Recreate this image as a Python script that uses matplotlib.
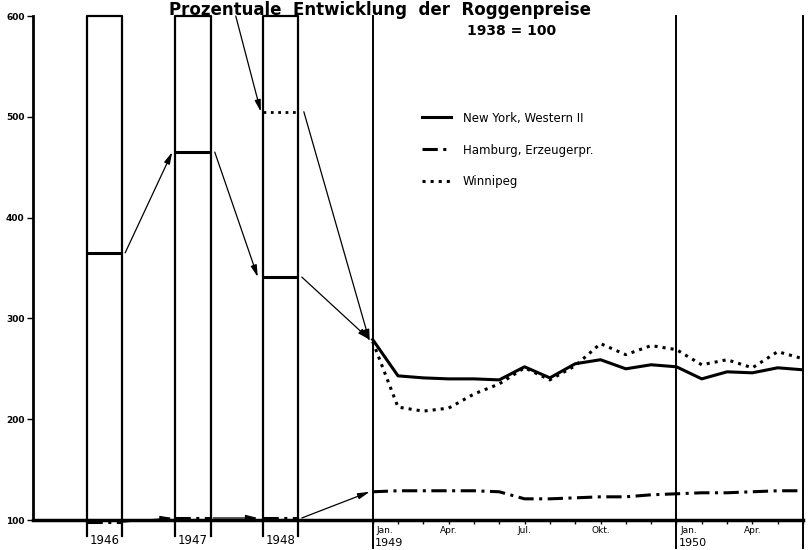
import matplotlib
matplotlib.use('Agg')
import matplotlib.pyplot as plt
from matplotlib.lines import Line2D

# monthly values Jan 1949 .. Jun 1950 (1938 = 100)
months = list(range(18))
ny = [279, 243, 241, 240, 240, 239, 252, 241, 255, 259, 250, 254, 252, 240, 247, 246, 251, 249]
winnipeg = [277, 212, 208, 211, 225, 235, 251, 239, 253, 275, 264, 273, 269, 254, 259, 251, 267, 260]
hamburg = [128, 129, 129, 129, 129, 128, 121, 121, 122, 123, 123, 125, 126, 127, 127, 128, 129, 129]

# yearly averages shown in the boxes
years = ['1946', '1947', '1948']
box_ny = [365, 465, 341]
box_hamburg = [98, 102, 102]
box_winnipeg = [None, None, 505]

month_labels = {0: 'Jan.', 3: 'Apr.', 6: 'Jul.', 9: 'Okt.', 12: 'Jan.', 15: 'Apr.'}
year_labels = {0: '1949', 12: '1950'}
yticks = [100, 200, 300, 400, 500, 600]

# layout of the boxes (in month units, Jan 1949 = 0)
box_left = [-11.3, -7.8, -4.35]
box_w = 1.4

dashdot = (0, (5, 1.8, 1, 1.8))

fig = plt.figure(figsize=(8.1, 5.5), dpi=100)
ax = fig.add_axes([33 / 810, 30 / 550, 770 / 810, 504 / 550])
ax.set_xlim(-13.42, 17)
ax.set_ylim(100, 600)

for s in ['top', 'right']:
    ax.spines[s].set_visible(False)
ax.spines['left'].set_linewidth(2)
ax.spines['bottom'].set_linewidth(2.5)

ax.set_yticks(yticks)
ax.set_yticklabels([str(v) for v in yticks], fontsize=6.5, fontweight='bold')
ax.tick_params(axis='y', length=4, width=1, pad=2)
ax.set_xticks(months)
ax.set_xticklabels([])
ax.tick_params(axis='x', length=3, width=1)

# boxes for the yearly values
for i, yr in enumerate(years):
    x0 = box_left[i]
    x1 = x0 + box_w
    ax.plot([x0, x0, x1, x1], [84, 600, 600, 84], color='black', lw=1.6, clip_on=False)
    ax.plot([x0, x1], [box_ny[i], box_ny[i]], color='black', lw=2.2, solid_capstyle='butt')
    ax.plot([x0, x1], [box_hamburg[i], box_hamburg[i]], color='black', lw=2.2,
            linestyle=dashdot, clip_on=False)
    if box_winnipeg[i] is not None:
        ax.plot([x0, x1], [box_winnipeg[i], box_winnipeg[i]], color='black', lw=2, linestyle=':')
    ax.text(x0 + box_w / 2, 80, yr, ha='center', va='center', fontsize=8.5)

# year separators
for xv in [0, 12, 17]:
    ax.plot([xv, xv], [72, 600], color='black', lw=1.4, clip_on=False)

# monthly series
ax.plot(months, ny, color='black', lw=2.2)
ax.plot(months, hamburg, color='black', lw=2.2, linestyle=dashdot)
ax.plot(months, winnipeg, color='black', lw=2.2, linestyle=':')

for m, lab in month_labels.items():
    if m in year_labels:
        ax.text(m + 0.15, 90, lab, ha='left', va='center', fontsize=6.5)
        ax.text(m + 0.1, 77, year_labels[m], ha='left', va='center', fontsize=8)
    else:
        ax.text(m, 90, lab, ha='center', va='center', fontsize=6.5)

# connecting arrows
aprops = dict(arrowstyle='-|>,head_length=0.7,head_width=0.18', color='black', lw=0.9,
              shrinkA=0, shrinkB=0)
right = [b + box_w for b in box_left]
ax.annotate('', xy=(box_left[1] - 0.12, box_ny[1]), xytext=(right[0] + 0.12, box_ny[0]), arrowprops=aprops)
ax.annotate('', xy=(box_left[2] - 0.19, box_ny[2]), xytext=(right[1] + 0.16, box_ny[1]), arrowprops=aprops)
ax.annotate('', xy=(-0.12, ny[0]), xytext=(right[2] + 0.15, box_ny[2]), arrowprops=aprops)
ax.annotate('', xy=(box_left[2] - 0.07, box_winnipeg[2]), xytext=(-5.41, 600),
            arrowprops=aprops, annotation_clip=False)
ax.annotate('', xy=(-0.12, winnipeg[0]), xytext=(right[2] + 0.23, box_winnipeg[2]), arrowprops=aprops)
ax.annotate('', xy=(box_left[1] - 0.12, box_hamburg[1]), xytext=(right[0] + 0.05, box_hamburg[0]),
            arrowprops=aprops, annotation_clip=False)
ax.annotate('', xy=(box_left[2] - 0.19, box_hamburg[2]), xytext=(right[1] + 0.1, box_hamburg[1]),
            arrowprops=aprops, annotation_clip=False)
ax.annotate('', xy=(-0.12, hamburg[0]), xytext=(right[2] + 0.15, box_hamburg[2]),
            arrowprops=aprops, annotation_clip=False)

handles = [Line2D([], [], color='black', lw=2.2),
           Line2D([], [], color='black', lw=2.2, linestyle=dashdot),
           Line2D([], [], color='black', lw=2.2, linestyle=':')]
labels = ['New York, Western II', 'Hamburg, Erzeugerpr.', 'Winnipeg']
fig.legend(handles, labels, loc='upper left', bbox_to_anchor=(411 / 810, 1 - 101 / 550),
           frameon=False, fontsize=8.5, handlelength=2.5, handletextpad=1.0, labelspacing=1.6)

fig.text(380 / 810, 1 - 10 / 550, 'Prozentuale  Entwicklung  der  Roggenpreise',
         ha='center', va='center', fontsize=12, fontweight='bold')
fig.text(512 / 810, 1 - 31 / 550, '1938 = 100', ha='center', va='center',
         fontsize=10, fontweight='bold')

fig.savefig('out.png', dpi=100)
